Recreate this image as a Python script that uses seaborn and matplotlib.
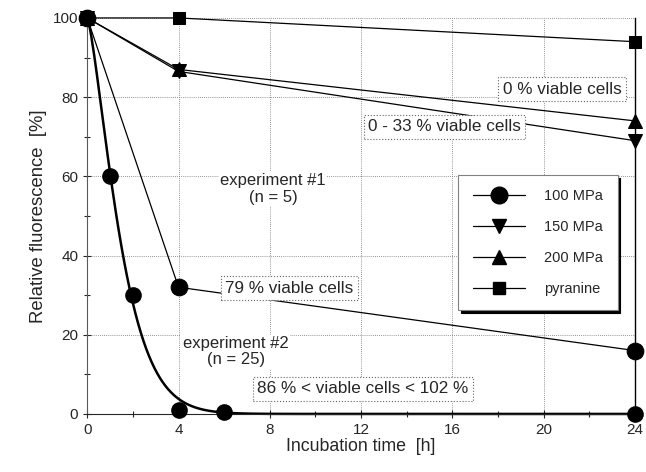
import numpy as np
import matplotlib.pyplot as plt
import seaborn as sns

# ---- data ----
# experiment #1 (n = 5)
t_exp1 = [0, 4, 24]
mpa100_exp1 = [100, 32, 16]
mpa150 = [100, 86.5, 69]
mpa200 = [100, 87, 74]
pyranine = [100, 100, 94]

# experiment #2 (n = 25), 100 MPa
t_exp2 = [0, 1, 2, 4, 6, 24]
mpa100_exp2 = [100, 60, 30, 1, 0.5, 0]

series_labels = ["100 MPa", "150 MPa", "200 MPa", "pyranine"]

sns.set_style("ticks")
plt.rcParams["font.family"] = ["Liberation Sans", "DejaVu Sans"]

fig, ax = plt.subplots(figsize=(6.46, 4.72), dpi=100)
fig.subplots_adjust(left=0.135, right=0.983, bottom=0.123, top=0.962)

# stretched-exponential fit through experiment #2 points (grid least squares)
t2 = np.array(t_exp2, dtype=float)
y2 = np.array(mpa100_exp2, dtype=float)
best = (np.inf, 1.0, 1.0)
for tau in np.linspace(0.5, 4, 141):
    for p in np.linspace(0.6, 2.5, 96):
        err = np.sum((100 * np.exp(-(t2 / tau) ** p) - y2) ** 2)
        if err < best[0]:
            best = (err, tau, p)
_, tau, p = best
tt = np.linspace(0, 24, 400)
sns.lineplot(x=tt, y=100 * np.exp(-(tt / tau) ** p), color="k", lw=1.8, ax=ax)
sns.scatterplot(x=t_exp2, y=mpa100_exp2, marker="o", s=12 ** 2, color="k",
                edgecolor="k", linewidth=0, ax=ax, zorder=4)

kw = dict(color="k", lw=0.9, markeredgecolor="k", ax=ax)
sns.lineplot(x=t_exp1, y=pyranine, marker="s", markersize=9, **kw)
sns.lineplot(x=t_exp1, y=mpa200, marker="^", markersize=10, **kw)
sns.lineplot(x=t_exp1, y=mpa150, marker="v", markersize=10, **kw)
sns.lineplot(x=t_exp1, y=mpa100_exp1, marker="o", markersize=12, **kw)

for art in ax.lines + ax.collections:
    art.set_clip_on(False)

ax.set_xlim(0, 24)
ax.set_ylim(0, 100)
ax.set_xticks(range(0, 25, 4))
ax.set_xticks(range(0, 25, 2), minor=True)
ax.set_yticks(range(0, 101, 20))
ax.set_yticks(range(0, 101, 10), minor=True)
ax.grid(True, which="major", ls=(0, (1, 1.5)), color="0.45", lw=0.6)
ax.tick_params(which="major", direction="inout", length=6, width=0.8, labelsize=11)
ax.tick_params(which="minor", direction="inout", length=4, width=0.8)
ax.spines["top"].set_visible(False)
ax.spines["left"].set_color("0.35")
ax.spines["right"].set_color("k")
ax.spines["right"].set_linewidth(1.0)
for s in ["left", "bottom"]:
    ax.spines[s].set_linewidth(0.8)

ax.set_xlabel("Incubation time  [h]", fontsize=12.8, labelpad=1)
ax.set_ylabel("Relative fluorescence  [%]", fontsize=13.3, labelpad=4)

box = dict(boxstyle="square,pad=0.25", fc="white", ec="0.4", ls=":", lw=0.8)
fs = 12.3
ax.text(20.8, 82, "0 % viable cells", fontsize=fs, ha="center", va="center", bbox=box, zorder=5)
ax.text(15.66, 72.5, "0 - 33 % viable cells", fontsize=fs, ha="center", va="center", bbox=box, zorder=5)
ax.text(8.85, 31.8, "79 % viable cells", fontsize=fs, ha="center", va="center", bbox=box, zorder=5)
ax.text(12.07, 6.3, "86 % < viable cells < 102 %", fontsize=fs, ha="center", va="center", bbox=box, zorder=5)
ax.text(8.15, 56.8, "experiment #1\n(n = 5)", fontsize=12, ha="center", va="center",
        linespacing=1.1, bbox=dict(fc="white", ec="none", pad=1), zorder=5)
ax.text(6.5, 15.7, "experiment #2\n(n = 25)", fontsize=12, ha="center", va="center",
        linespacing=1.1, bbox=dict(fc="white", ec="none", pad=1), zorder=5)

# legend handles in the same order as the labels
handles = [
    plt.Line2D([], [], color="k", lw=0.9, marker="o", markersize=12),
    plt.Line2D([], [], color="k", lw=0.9, marker="v", markersize=10),
    plt.Line2D([], [], color="k", lw=0.9, marker="^", markersize=10),
    plt.Line2D([], [], color="k", lw=0.9, marker="s", markersize=9),
]
leg = ax.legend(handles, series_labels, loc="upper left", bbox_to_anchor=(0.677, 0.604),
                borderaxespad=0, frameon=True, fancybox=False, edgecolor="0.5",
                framealpha=1, shadow={"color": "k", "alpha": 1}, fontsize=10.5,
                handlelength=3.6, labelspacing=1.15, borderpad=1.0, handletextpad=1.3)
leg.get_frame().set_linewidth(0.8)
leg.set_zorder(10)

fig.savefig("out.png", dpi=100)
